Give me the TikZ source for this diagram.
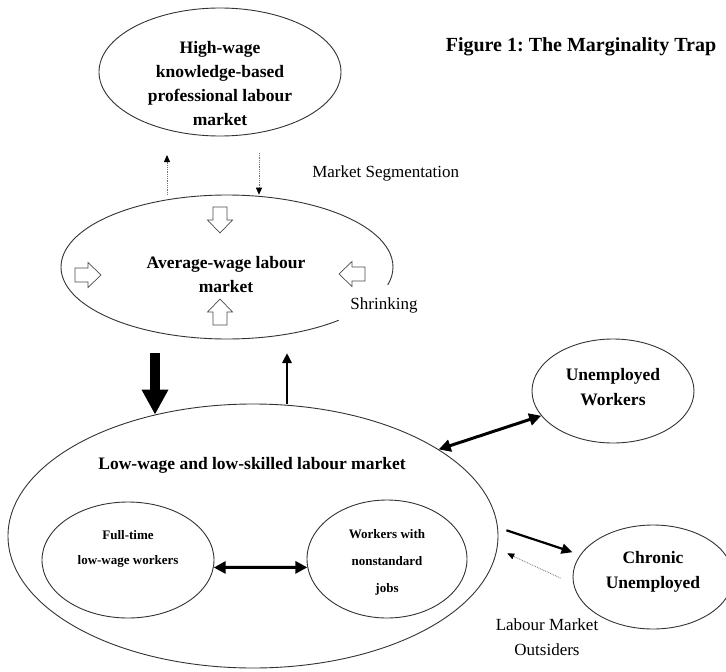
\documentclass[tikz,border=0pt]{standalone}
\usepackage{fontspec}
\setmainfont{Liberation Serif}
\usetikzlibrary{shapes,arrows.meta}
\frenchspacing

\tikzset{hollow/.pic={
  \draw[black!70, line width=0.7pt, fill=white]
    (-13,-7) -- (0,-7) -- (0,-12.5) -- (13,0) -- (0,12.5) -- (0,7) -- (-13,7) -- cycle;}}

\begin{document}
\begin{tikzpicture}[
      x = 1pt, y = -1pt,
      > = {Triangle[length=12pt,width=12pt]},
      semithick]
      \tikzstyle{every node}=[inner sep=0pt]
      \tikzstyle{market}=[ellipse, draw=black!80, line width=0.9pt]
      \tikzstyle{bold label}=[font=\bfseries\fontsize{17.5}{24}\selectfont, align=center]
      \tikzstyle{small label}=[font=\bfseries\fontsize{13}{26}\selectfont, align=center]
      \tikzstyle{plain label}=[font=\fontsize{17}{25}\selectfont, align=center]
      \tikzstyle{dotarrow}=[-{Triangle[length=7pt,width=6pt,color=black]}, densely dotted, black!55, line width=0.8pt]
      \tikzstyle{twoway}=[<->, line width=3pt]

      \fill[white] (0,0) rectangle (726,672);
      \useasboundingbox (0,0) rectangle (726,672);

      % markets
      \node[market, minimum width=242pt, minimum height=128pt] (high) at (220,72) {};
      \node[ellipse, minimum width=332pt, minimum height=144pt] (avg) at (227,267) {};
      \draw[black!80, line width=0.9pt] (avg.center) ++(47.7:166 and 72)
        arc[start angle=47.7, end angle=374.5, x radius=166, y radius=72];
      \node[market, minimum width=490pt, minimum height=264pt] (low) at (253,536) {};
      \node[market, minimum width=172pt, minimum height=116pt] (fullt) at (128,560) {};
      \node[market, minimum width=160pt, minimum height=118pt] (nonstd) at (387,559) {};
      \node[market, minimum width=162pt, minimum height=104pt] (unemp) at (613,391) {};
      \node[market, minimum width=160pt, minimum height=104pt] (chronic) at (653,577) {};

      % texts
      \node[font=\bfseries\fontsize{20}{24}\selectfont] (title) at (581,47) {Figure 1: The Marginality Trap};
      \node[bold label] (hightxt) at (220,84) {High-wage\\knowledge-based\\professional labour\\market};
      \node[bold label] (avgtxt) at (226,275) {Average-wage labour\\market};
      \node[bold label] (lowtxt) at (252,465) {Low-wage and low-skilled labour market};
      \node[small label, font=\bfseries\fontsize{13}{25}\selectfont] (fulltxt) at (128,549) {Full-time\\low-wage workers};
      \node[small label, font=\bfseries\fontsize{13}{27}\selectfont] (nonstdtxt) at (387,562) {Workers with\\nonstandard\\jobs};
      \node[bold label, font=\bfseries\fontsize{17.5}{25}\selectfont] (unemptxt) at (613,387) {Unemployed\\Workers};
      \node[bold label, font=\bfseries\fontsize{17.5}{25}\selectfont] (chronictxt) at (653,572) {Chronic\\Unemployed};
      \node[plain label, anchor=west] (seg) at (312,173) {Market Segmentation};
      \node[plain label] (shrink) at (384,305) {Shrinking};
      \node[plain label] (outsiders) at (547,637) {Labour Market\\Outsiders};

      % pressure on the middle
      \pic[rotate=-90] at (220,220) {hollow};
      \pic at (88,275) {hollow};
      \pic[rotate=180] at (352,274) {hollow};
      \pic[rotate=90] at (220,312) {hollow};

      % flows
      \coordinate (segup) at (167,155);
      \coordinate (segdown) at (259,153);
      \coordinate (drop) at (155,353);
      \coordinate (rise) at (287,353);

      \draw[dotarrow] (segup |- avg.north) -- (segup);
      \draw[dotarrow] (segdown) -- (segdown |- avg.north);
      \draw[-{Triangle[length=25pt,width=25pt]}, line width=10pt] (drop) -- (drop |- low.129);
      \draw[-{Triangle[length=10pt,width=9pt]}, line width=2.5pt] (rise |- low.north) -- (rise);
      \draw[twoway] (low.25) -- (unemp.199);
      \draw[twoway] (fullt.-5) -- (nonstd.186);
      \draw[-{Triangle[length=11pt,width=10pt]}, line width=2.2pt, shorten <=9pt, shorten >=8pt] (low.2) -- (chronic.163);
      \draw[dotarrow, shorten <=14pt, shorten >=11pt] (chronic.185) -- (low.-3);
\end{tikzpicture}
\end{document}
